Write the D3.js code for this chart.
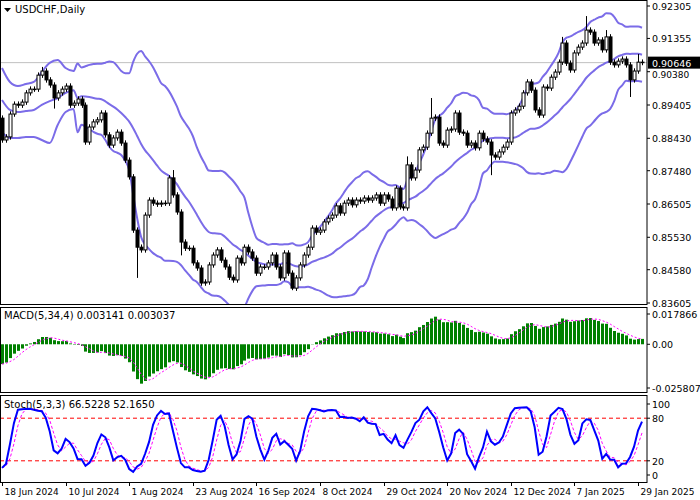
<!DOCTYPE html>
<html><head><meta charset="utf-8">
<script src="https://cdn.jsdelivr.net/npm/d3@7"></script>
<style>body{margin:0;background:#fff}svg{display:block}text{font-family:"DejaVu Sans",sans-serif;font-size:10px}</style>
</head><body>
<svg id="c" width="700" height="500"></svg>
<script>
const closes=[.8838,.8847,.8914,.8943,.8940,.8949,.8976,.8987,.8987,.9028,.9040,.9014,.8999,.8961,.8976,.8987,.8996,.8940,.8946,.8958,
.8940,.8832,.8876,.8891,.8897,.8917,.8853,.8823,.8844,.8861,.8829,.8779,.8730,.8574,.8524,.8516,.8618,.8662,.8653,.8650,
.8653,.8653,.8727,.8677,.8627,.8539,.8521,.8521,.8478,.8463,.8419,.8422,.8472,.8501,.8516,.8486,.8466,.8436,.8428,.8492,
.8478,.8524,.8510,.8492,.8448,.8466,.8466,.8478,.8501,.8466,.8434,.8507,.8448,.8404,.8434,.8472,.8501,.8524,.8580,.8568,
.8574,.8598,.8609,.8618,.8645,.8624,.8653,.8662,.8648,.8662,.8659,.8668,.8662,.8668,.8677,.8653,.8677,.8665,.8639,.8697,
.8642,.8639,.8765,.8727,.8750,.8809,.8817,.8858,.8902,.8905,.8829,.8823,.8867,.8870,.8917,.8861,.8858,.8823,.8829,.8815,
.8858,.8841,.8832,.8794,.8788,.8803,.8817,.8832,.8917,.8926,.8937,.8976,.9008,.8984,.8926,.8911,.8993,.8990,.9022,.9037,
.9066,.9122,.9063,.9043,.9093,.9110,.9122,.9160,.9154,.9122,.9131,.9102,.9140,.9066,.9058,.9069,.9075,.9058,.9014,.9040,
.9066,.9065];
const firstOpen=0.8902;
const wickPad=0.0008;
const highOverrides=[[10,.9052],[43,.8750],[102,.8790],[108,.8961],[141,.9140],[147,.9201],[152,.9160],[160,.9090]];
const lowOverrides=[[34,.8434],[73,.8398],[123,.8735],[158,.8964],[13,.8930],[45,.8500]];
const bbEarlyBars=[0,2,4,6,8,10,12,14,16,18];
const bbEarlyUp=[.9049,.9008,.8996,.9002,.9008,.9037,.9064,.9072,.9049,.9040];
const bbEarlyMid=[.8955,.8926,.8920,.8923,.8926,.8941,.8952,.8961,.8976,.8984];
const bbEarlyLow=[.8861,.8844,.8844,.8847,.8847,.8838,.8829,.8882,.8920,.8929];
const priceTicks=[0.92305,0.91355,0.90380,0.89405,0.88430,0.87480,0.86505,0.85530,0.84580,0.83605];
const macdTicks=[[0.017866,"0.017866"],[0,"0.00"],[-0.025807,"-0.025807"]];
const stochTicks=[100,80,20,0];
const dateBars=[0,16,32,48,64,80,96,112,128,144,160];
const dateLabels=["18 Jun 2024","10 Jul 2024","1 Aug 2024","23 Aug 2024","16 Sep 2024","8 Oct 2024","29 Oct 2024","20 Nov 2024","12 Dec 2024","7 Jan 2025","29 Jan 2025"];
const lastPrice=0.90646;

const n=closes.length;
const opens=closes.map((c,i)=>i?closes[i-1]:firstOpen);
const highs=closes.map((c,i)=>Math.max(c,opens[i])+wickPad);
const lows=closes.map((c,i)=>Math.min(c,opens[i])-wickPad);
highOverrides.forEach(([i,v])=>highs[i]=v);lowOverrides.forEach(([i,v])=>lows[i]=v);

const bb=[];
bbEarlyBars.forEach((b,k)=>bb.push({i:b,u:bbEarlyUp[k],m:bbEarlyMid[k],l:bbEarlyLow[k]}));
for(let i=19;i<n;i++){const w=closes.slice(i-19,i+1);const m=d3.mean(w);const s=Math.sqrt(d3.mean(w,v=>(v-m)**2));bb.push({i,u:m+2*s,m,l:m-2*s});}
let ef=closes[0],es=bbEarlyMid[0];const macd=[];
closes.forEach((c,i)=>{if(i){ef+= (c-ef)*2/6; es+=(c-es)*2/35;} macd.push(ef-es);});
const sig=macd.map((v,i)=>d3.mean(macd.slice(Math.max(0,i-3),i+1)));
const raw=closes.map((c,i)=>{const lo=d3.min(lows.slice(Math.max(0,i-4),i+1)),hi=d3.max(highs.slice(Math.max(0,i-4),i+1));return {a:c-lo,b:hi-lo};});
const K=raw.map((r,i)=>{const w=raw.slice(Math.max(0,i-2),i+1);return 100*d3.sum(w,d=>d.a)/d3.sum(w,d=>d.b);});
const D=K.map((v,i)=>d3.mean(K.slice(Math.max(0,i-2),i+1)));

const svg=d3.select("#c");
const R=647;
const x=d3.scaleLinear().domain([0,n-1]).range([2,642]);
const y=d3.scaleLinear().domain([0.83605,0.92305]).range([303,6]);
const ym=d3.scaleLinear().domain([-0.025807,0.017866]).range([388,314]);
const ys=d3.scaleLinear().domain([0,100]).range([475,404]);
const panels=[[0,304],[307,392],[395,482]];
const defs=svg.append("defs");
panels.forEach((p,k)=>defs.append("clipPath").attr("id","cp"+k).append("rect").attr("x",0).attr("y",p[0]).attr("width",R).attr("height",p[1]-p[0]));

const g0=svg.append("g").attr("clip-path","url(#cp0)");
g0.append("line").attr("x1",0).attr("x2",R).attr("y1",y(lastPrice)).attr("y2",y(lastPrice)).attr("stroke","#c0c0c0");
const bandCol="#7B6CE8";
["u","m","l"].forEach(k=>g0.append("path").attr("d",d3.line().x(d=>x(d.i)).y(d=>y(d[k])).curve(d3.curveMonotoneX)(bb)).attr("fill","none").attr("stroke",bandCol).attr("stroke-width",2));
closes.forEach((c,i)=>{const cx=Math.round(x(i))+0.5;
 g0.append("line").attr("x1",cx).attr("x2",cx).attr("y1",y(highs[i])).attr("y2",y(lows[i])).attr("stroke","#000");
 const t=y(Math.max(c,opens[i])),b=y(Math.min(c,opens[i]));
 g0.append("rect").attr("x",cx-1.5).attr("y",t).attr("width",3).attr("height",Math.max(0.5,b-t)).attr("fill",c>=opens[i]?"#fff":"#000").attr("stroke","#000").attr("stroke-width",1);
});
const g1=svg.append("g").attr("clip-path","url(#cp1)");
macd.forEach((v,i)=>g1.append("rect").attr("x",Math.round(x(i))-1).attr("width",3).attr("y",Math.min(ym(v),ym(0))).attr("height",Math.abs(ym(v)-ym(0))).attr("fill","#008000"));
g1.append("path").attr("d",d3.line().x((d,i)=>x(i)).y(d=>ym(d))(sig)).attr("fill","none").attr("stroke","#ff00ff").attr("stroke-dasharray","2,2");
const g2=svg.append("g").attr("clip-path","url(#cp2)");
[20,80].forEach(l=>g2.append("line").attr("x1",0).attr("x2",R).attr("y1",ys(l)).attr("y2",ys(l)).attr("stroke","#ff0000").attr("stroke-dasharray","4,3"));
g2.append("path").attr("d",d3.line().x((d,i)=>x(i)).y(d=>ys(d))(D)).attr("fill","none").attr("stroke","#ff00ff").attr("stroke-dasharray","3,2");
g2.append("path").attr("d",d3.line().x((d,i)=>x(i)).y(d=>ys(d))(K)).attr("fill","none").attr("stroke","#0000ff").attr("stroke-width",2);

panels.forEach(p=>svg.append("rect").attr("x",0.5).attr("y",p[0]+0.5).attr("width",R-0.5).attr("height",p[1]-p[0]).attr("fill","none").attr("stroke","#000"));
function axisR(scale,vals,fmt){vals.forEach(v=>{const yy=scale(Array.isArray(v)?v[0]:v);
 svg.append("line").attr("x1",R).attr("x2",R+3).attr("y1",yy).attr("y2",yy).attr("stroke","#000");
 svg.append("text").attr("x",R+5).attr("y",yy+4).style("font-size","9.5px").text(fmt(v));});}
axisR(y,priceTicks.filter(v=>Math.abs(y(v)-y(lastPrice))>12),v=>v.toFixed(5));
axisR(ym,macdTicks,v=>v[1]);
axisR(ys,stochTicks,v=>String(v));
const ly=y(lastPrice);
const nearTick=priceTicks.find(v=>Math.abs(y(v)-ly)<=12);
svg.append("line").attr("x1",R).attr("x2",R+3).attr("y1",y(nearTick)).attr("y2",y(nearTick)).attr("stroke","#000");
svg.append("text").attr("x",R+5).attr("y",ly+15).style("font-size","9px").text(nearTick.toFixed(5));
svg.append("rect").attr("x",R+1).attr("y",ly-6).attr("width",52).attr("height",12).attr("fill","#000");
svg.append("text").attr("x",R+5).attr("y",ly+4).attr("fill","#fff").style("font-size","9.5px").text(lastPrice.toFixed(5));
dateBars.forEach((b,k)=>{const xx=Math.round(x(b))+0.5;
 svg.append("line").attr("x1",xx).attr("x2",xx).attr("y1",482).attr("y2",486).attr("stroke","#000");
 svg.append("text").attr("x",xx+2).attr("y",495).style("font-size","9px").text(dateLabels[k]);});
svg.append("path").attr("d","M4,8 L11,8 L7.5,12 Z").attr("fill","#000");
svg.append("text").attr("x",15).attr("y",13).text("USDCHF,Daily");
svg.append("text").attr("x",4).attr("y",319).text("MACD(5,34,4) 0.003141 0.003037");
svg.append("text").attr("x",4).attr("y",408).text("Stoch(5,3,3) 66.5228 52.1650");
</script></body></html>
